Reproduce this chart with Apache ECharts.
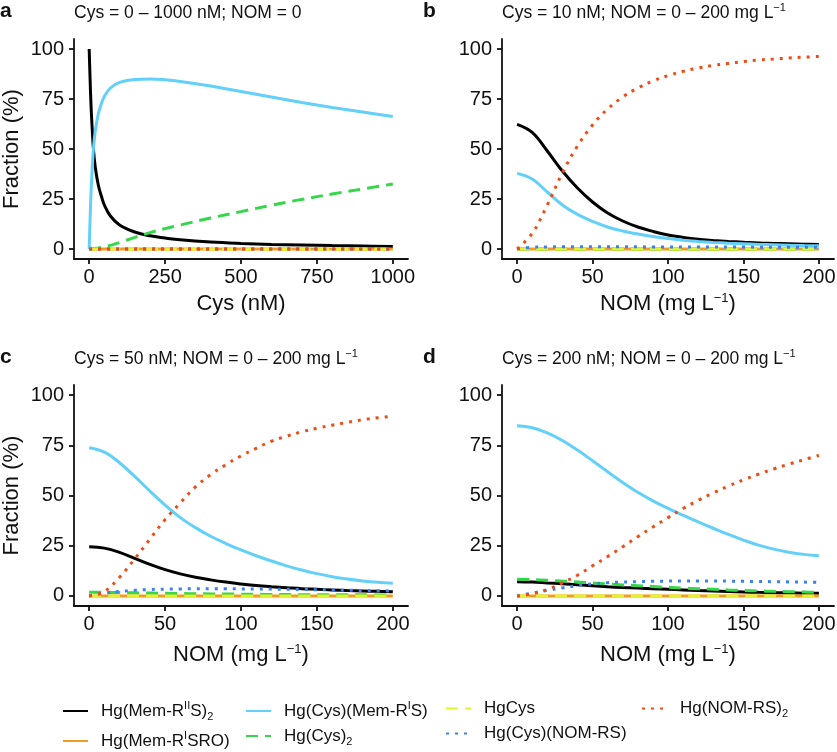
<!DOCTYPE html>
<html lang="en">
<head>
<meta charset="UTF-8">
<title>Hg speciation vs Cys / NOM</title>
<script src="https://cdn.jsdelivr.net/npm/echarts@6.0.0/dist/echarts.min.js"></script>
<style>
  html, body { margin: 0; padding: 0; background: #fff; }
  #main { width: 837px; height: 752px; }
</style>
</head>
<body>
<div id="main"></div>
<script>
  // ---- data (fraction, %) ----
  // panel a: Cys = 0-1000 nM, NOM = 0
  var cysA   = [0, 3, 6, 10, 14, 20, 30, 40, 50, 70, 100, 150, 200, 250, 300, 400, 500, 600, 700, 800, 900, 1000];
  var aMemII = [100, 85, 72, 60, 50, 41, 32, 26.5, 22, 16.5, 12, 8.5, 6.6, 5.5, 4.6, 3.5, 2.8, 2.3, 2, 1.7, 1.5, 1.3];
  var aCysMem = [0, 15, 28, 40, 50, 59, 67.5, 72.6, 76.3, 80.5, 83.3, 84.8, 85, 84.6, 83.8, 81.5, 78.7, 76, 73.3, 70.8, 68.5, 66.2];
  var aCys2  = [0, 0, 0.1, 0.1, 0.2, 0.3, 0.5, 0.8, 1.1, 1.8, 3.2, 5.8, 8.2, 10.2, 12, 15.5, 18.7, 21.9, 24.8, 27.5, 30, 32.5];
  var cysEnds = [0, 1000];

  // panels b-d: NOM = 0-200 mg/L
  var nom = [0, 10, 20, 30, 40, 50, 60, 70, 80, 90, 100, 110, 120, 130, 140, 150, 160, 170, 180, 190, 200];
  var nomEnds = [0, 200];
  var flat = [0, 0];

  // b: Cys = 10 nM
  var bMemII  = [62.3, 58.3, 49, 39, 30.5, 23.5, 18, 14, 11, 8.8, 7, 5.8, 4.9, 4.3, 3.8, 3.4, 3, 2.8, 2.6, 2.4, 2.3];
  var bCysMem = [37.8, 35, 28.5, 22, 17.3, 13.8, 11, 9, 7.5, 6.2, 5.2, 4.4, 3.8, 3.3, 2.9, 2.6, 2.3, 2.1, 1.9, 1.7, 1.6];
  var bCysNom = [0, 0.9, 1, 1.1, 1.1, 1.1, 1.1, 1.1, 1.1, 1, 1, 1, 1, 1, 1, 1, 0.9, 0.9, 0.9, 0.9, 0.9];
  var bNom2   = [0, 7.8, 22, 38, 51.5, 62, 70, 76, 80.5, 84, 86.7, 88.8, 90.5, 91.8, 92.8, 93.7, 94.5, 95, 95.5, 95.9, 96.3];

  // c: Cys = 50 nM
  var cMemII  = [24.5, 23.8, 21.7, 18.7, 15.7, 13.1, 11, 9.3, 8, 6.9, 6, 5.2, 4.6, 4.1, 3.6, 3.3, 3, 2.7, 2.5, 2.3, 2.1];
  var cCysMem = [73.8, 71.6, 66.3, 59.5, 52.2, 45.2, 39, 34, 29.7, 26.1, 22.9, 20, 17.4, 15, 12.9, 11.1, 9.6, 8.4, 7.5, 6.8, 6.3];
  var cCys2   = [1.9, 1.8, 1.7, 1.55, 1.45, 1.3, 1.2, 1.1, 1, 0.95, 0.9, 0.82, 0.75, 0.7, 0.65, 0.62, 0.6, 0.57, 0.55, 0.52, 0.5];
  var cCysNom = [0, 1.4, 2.2, 2.8, 3.2, 3.4, 3.5, 3.6, 3.6, 3.6, 3.5, 3.45, 3.4, 3.3, 3.2, 3.1, 3, 2.85, 2.7, 2.6, 2.5];
  var cNom2   = [0, 2.2, 9.3, 18.5, 28.3, 38, 46.3, 54.3, 60.4, 65.3, 69.7, 73.5, 77, 79.5, 81.7, 83.5, 85, 86.4, 87.7, 88.7, 89.5];

  // d: Cys = 200 nM
  var dMemII  = [7.1, 6.9, 6.5, 6.1, 5.6, 5.1, 4.6, 4.2, 3.9, 3.6, 3.3, 3, 2.7, 2.45, 2.2, 2, 1.8, 1.65, 1.5, 1.4, 1.3];
  var dCysMem = [84.7, 83.7, 81.2, 77.4, 72.6, 67.3, 61.8, 56.5, 51.6, 47.3, 43.6, 40.2, 36.9, 33.7, 30.6, 27.8, 25.3, 23.3, 21.8, 20.7, 20];
  var dCys2   = [8.3, 8.1, 7.8, 7.4, 7, 6.5, 6, 5.5, 5.1, 4.7, 4.3, 3.95, 3.6, 3.3, 3, 2.75, 2.5, 2.3, 2.1, 1.95, 1.8];
  var dCysNom = [0, 1.4, 2.8, 4, 5.1, 6, 6.6, 6.9, 7.1, 7.3, 7.4, 7.45, 7.5, 7.45, 7.4, 7.3, 7.2, 7.1, 7, 6.9, 6.8];
  var dNom2   = [0, 1, 3.2, 6.5, 10.3, 15, 19.6, 24.5, 29.5, 34.3, 39, 43.5, 47.6, 51.3, 54.7, 57.8, 60.6, 63.2, 65.6, 67.8, 70];

  // tick labels
  var yTicks = [0, 25, 50, 75, 100];
  var cysTicks = [0, 250, 500, 750, 1000];
  var nomTicks = [0, 50, 100, 150, 200];

  // species, in drawing / legend order
  var species = ['Hg(Mem-RIIS)2', 'Hg(Mem-RISRO)', 'Hg(Cys)(Mem-RIS)', 'Hg(Cys)2', 'HgCys', 'Hg(Cys)(NOM-RS)', 'Hg(NOM-RS)2'];

  var FONT = '"Liberation Sans", Arial, Helvetica, sans-serif';
  var INK = '#111111';

  var look = {
    'Hg(Mem-RIIS)2':    { color: '#000000', type: 'solid' },
    'Hg(Mem-RISRO)':    { color: '#f29c1f', type: 'solid' },
    'Hg(Cys)(Mem-RIS)': { color: '#62d0f8', type: 'solid' },
    'Hg(Cys)2':         { color: '#35d64a', type: [12, 7] },
    'HgCys':            { color: '#e3f22c', type: [12, 7] },
    'Hg(Cys)(NOM-RS)':  { color: '#3a80f0', type: [3, 6] },
    'Hg(NOM-RS)2':      { color: '#ee4b16', type: [3, 6] }
  };

  // rich-text versions of the species names (super/subscripts)
  var legendText = {
    'Hg(Mem-RIIS)2':    '{g| }{n|Hg(Mem-R}{sup|II}{n|S)}{sub|2}',
    'Hg(Mem-RISRO)':    '{g| }{n|Hg(Mem-R}{sup|I}{n|SRO)}',
    'Hg(Cys)(Mem-RIS)': '{g| }{n|Hg(Cys)(Mem-R}{sup|I}{n|S)}',
    'Hg(Cys)2':         '{g| }{n|Hg(Cys)}{sub|2}',
    'HgCys':            '{g| }{n|HgCys}',
    'Hg(Cys)(NOM-RS)':  '{g| }{n|Hg(Cys)(NOM-RS)}',
    'Hg(NOM-RS)2':      '{g| }{n|Hg(NOM-RS)}{sub|2}'
  };

  // one row per panel: [x values, y values] for each species
  var panels = [
    [[cysA, aMemII], [cysEnds, flat], [cysA, aCysMem], [cysA, aCys2], [cysEnds, flat], [cysEnds, flat], [cysEnds, flat]],
    [[nom, bMemII], [nomEnds, flat], [nom, bCysMem], [nomEnds, flat], [nomEnds, flat], [nom, bCysNom], [nom, bNom2]],
    [[nom, cMemII], [nomEnds, flat], [nom, cCysMem], [nom, cCys2], [nomEnds, flat], [nom, cCysNom], [nom, cNom2]],
    [[nom, dMemII], [nomEnds, flat], [nom, dCysMem], [nom, dCys2], [nomEnds, flat], [nom, dCysNom], [nom, dNom2]]
  ];

  function toPairs(xs, ys) {
    return xs.map(function (x, i) { return [x, ys[i]]; });
  }

  var series = [];
  panels.forEach(function (panel, p) {
    panel.forEach(function (xy, k) {
      var name = species[k];
      series.push({
        type: 'line',
        name: name,
        xAxisIndex: p,
        yAxisIndex: p,
        data: toPairs(xy[0], xy[1]),
        symbol: 'none',
        smooth: 0.4,
        silent: true,
        lineStyle: { color: look[name].color, width: 3, type: look[name].type, cap: 'butt' },
        itemStyle: { color: look[name].color },
        z: 2 + k
      });
    });
  });

  var nameRich = {
    n: { fontSize: 22, lineHeight: 24, color: INK, fontFamily: FONT },
    sup: { fontSize: 13, lineHeight: 14, verticalAlign: 'top', color: INK, fontFamily: FONT }
  };

  var axisLineStyle = { color: INK, width: 1.8 };
  function plainNum(v) { return String(v); }

  function xAxisFor(i, max, ticks, name, gap) {
    var pad = max * 0.05;
    return {
      type: 'value', gridIndex: i, min: -pad, max: max + pad,
      axisLine: { show: true, onZero: false, lineStyle: axisLineStyle },
      axisTick: { show: true, length: 5, customValues: ticks, lineStyle: axisLineStyle },
      axisLabel: { customValues: ticks, formatter: plainNum, margin: 8, fontSize: 20, color: INK, fontFamily: FONT },
      splitLine: { show: false },
      name: name, nameLocation: 'middle', nameGap: gap,
      nameTextStyle: { fontSize: 22, lineHeight: 24, color: INK, fontFamily: FONT, rich: nameRich }
    };
  }

  function yAxisFor(i, withName) {
    return {
      type: 'value', gridIndex: i, min: -5, max: 105,
      axisLine: { show: true, onZero: false, lineStyle: axisLineStyle },
      axisTick: { show: true, length: 5, customValues: yTicks, lineStyle: axisLineStyle },
      axisLabel: { customValues: yTicks, formatter: plainNum, margin: 10, fontSize: 20, color: INK, fontFamily: FONT },
      splitLine: { show: false },
      name: withName ? 'Fraction (%)' : '', nameLocation: 'middle', nameGap: 51,
      nameTextStyle: { fontSize: 22, color: INK, fontFamily: FONT }
    };
  }

  var nomName = '{n|NOM (mg L}{sup|\u22121}{n|)}';

  var titleRich = {
    n: { fontSize: 17.5, fontWeight: 'normal', lineHeight: 22, color: INK, fontFamily: FONT },
    sup: { fontSize: 11, fontWeight: 'normal', lineHeight: 12, verticalAlign: 'top', color: INK, fontFamily: FONT }
  };
  var titleStyle = { fontWeight: 'normal', fontSize: 17.5, rich: titleRich };
  var letterStyle = { fontSize: 21, fontWeight: 'bold', lineHeight: 22, color: INK, fontFamily: FONT };

  var legendRich = {
    g: { width: 8 },
    n: { fontSize: 17, lineHeight: 22, color: INK, fontFamily: FONT },
    sup: { fontSize: 11, lineHeight: 12, verticalAlign: 'top', color: INK, fontFamily: FONT },
    sub: { fontSize: 11, lineHeight: 12, verticalAlign: 'bottom', color: INK, fontFamily: FONT }
  };
  function legendCol(left, names) {
    return {
      orient: 'vertical', left: left, top: 700, padding: 0,
      itemWidth: 25, itemHeight: 14, itemGap: 8,
      selectedMode: false,
      itemStyle: { opacity: 0 },
      data: names,
      formatter: function (n) { return legendText[n]; },
      textStyle: { rich: legendRich, fontFamily: FONT }
    };
  }

  var option = {
    animation: false,
    backgroundColor: '#ffffff',
    textStyle: { fontFamily: FONT },
    title: [
      { text: 'a', left: 0, top: 0, padding: 0, textStyle: letterStyle },
      { text: '{n|Cys = 0 \u2013 1000 nM; NOM = 0}', left: 74, top: 2, padding: 0, textStyle: titleStyle },
      { text: 'b', left: 423, top: 0, padding: 0, textStyle: letterStyle },
      { text: '{n|Cys = 10 nM; NOM = 0 \u2013 200 mg L}{sup|\u22121}', left: 502, top: 2, padding: 0, textStyle: titleStyle },
      { text: 'c', left: 0, top: 346, padding: 0, textStyle: letterStyle },
      { text: '{n|Cys = 50 nM; NOM = 0 \u2013 200 mg L}{sup|\u22121}', left: 74, top: 348, padding: 0, textStyle: titleStyle },
      { text: 'd', left: 423, top: 346, padding: 0, textStyle: letterStyle },
      { text: '{n|Cys = 200 nM; NOM = 0 \u2013 200 mg L}{sup|\u22121}', left: 502, top: 348, padding: 0, textStyle: titleStyle }
    ],
    grid: [
      { left: 74, top: 39, width: 334, height: 220, outerBoundsMode: 'none' },
      { left: 502, top: 39, width: 332, height: 220, outerBoundsMode: 'none' },
      { left: 74, top: 385, width: 334, height: 221, outerBoundsMode: 'none' },
      { left: 502, top: 385, width: 332, height: 221, outerBoundsMode: 'none' }
    ],
    xAxis: [
      xAxisFor(0, 1000, cysTicks, '{n|Cys (nM)}', 33),
      xAxisFor(1, 200, nomTicks, nomName, 33),
      xAxisFor(2, 200, nomTicks, nomName, 37),
      xAxisFor(3, 200, nomTicks, nomName, 37)
    ],
    yAxis: [yAxisFor(0, true), yAxisFor(1, false), yAxisFor(2, true), yAxisFor(3, false)],
    legend: [
      legendCol(62, [species[0], species[1]]),
      legendCol(245, [species[2], species[3]]),
      legendCol(445, [species[4], species[5]]),
      legendCol(641, [species[6]])
    ],
    series: series
  };

  var chart = echarts.init(document.getElementById('main'));
  chart.setOption(option);
</script>
</body>
</html>
